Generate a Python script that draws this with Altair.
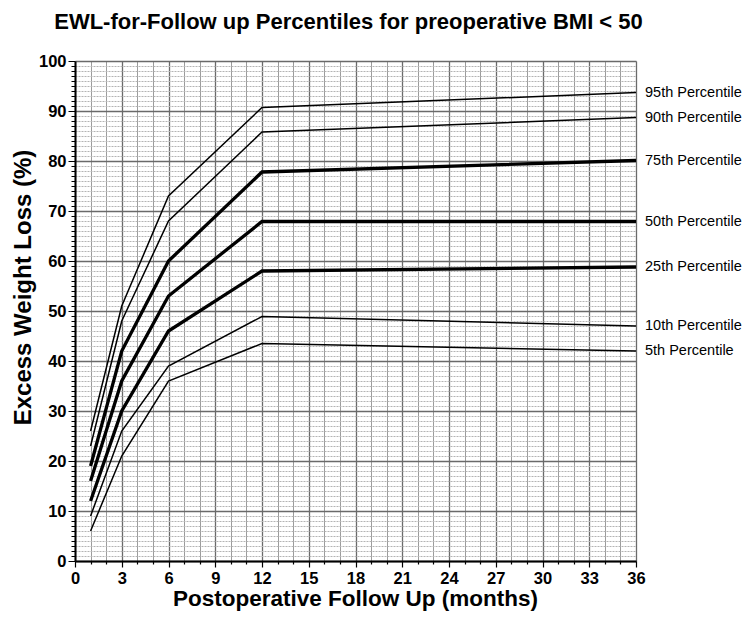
import altair as alt
import pandas as pd

# ---- data ----
months = [1, 3, 6, 12, 36]
series_names = ["95th Percentile", "90th Percentile", "75th Percentile",
                "50th Percentile", "25th Percentile", "10th Percentile",
                "5th Percentile"]
bold_series = ["75th Percentile", "50th Percentile", "25th Percentile"]
p95 = [26, 51, 73, 90.7, 93.7]
p90 = [23, 48, 68, 85.8, 88.7]
p75 = [19, 42, 60, 77.8, 80.1]
p50 = [16, 36, 53, 67.9, 67.9]
p25 = [12, 30, 46, 58, 58.8]
p10 = [9, 26, 39, 48.9, 47]
p5 = [6, 21, 36, 43.5, 42]

x_ticks = list(range(0, 37))      # grid / tick positions (months)
y_ticks = list(range(0, 101))     # grid / tick positions (%)

series_values = [p95, p90, p75, p50, p25, p10, p5]
rows = []
for name, vals in zip(series_names, series_values):
    for m, v in zip(months, vals):
        rows.append({"series": name, "month": m, "ewl": v,
                     "bold": name in bold_series})
df = pd.DataFrame(rows)

FONT = "Liberation Sans"

x_axis = alt.Axis(
    values=x_ticks,
    labelExpr="datum.value % 3 === 0 ? datum.label : ''",
    labelOverlap=False, labelFlush=False, labelBound=False,
    labelFont=FONT, labelFontSize=16.5, labelFontWeight="bold", labelColor="black",
    labelPadding=3,
    grid=True,
    gridColor={"condition": {"test": "datum.value % 3 === 0", "value": "#6a6a6a"}, "value": "#9c9c9c"},
    gridWidth={"condition": {"test": "datum.value % 3 === 0", "value": 1.3}, "value": 1},
    ticks=True,
    tickColor="black",
    tickSize={"condition": {"test": "datum.value % 3 === 0", "value": 6}, "value": 3},
    tickWidth=1.2,
    domainColor="black", domainWidth=2,
    title="Postoperative Follow Up (months)",
    titleFont=FONT, titleFontSize=22.5, titleFontWeight="bold", titleColor="black",
    titleX=280, titleY=37, titleBaseline="middle", titleAlign="center",
)

y_axis = alt.Axis(
    values=y_ticks,
    labelExpr="datum.value % 10 === 0 ? datum.label : ''",
    labelOverlap=False, labelFlush=False, labelBound=False,
    labelFont=FONT, labelFontSize=16.5, labelFontWeight="bold", labelColor="black",
    labelPadding=2,
    grid=True,
    gridColor={"condition": {"test": "datum.value % 10 === 0", "value": "#6a6a6a"}, "value": "#b4b4b4"},
    gridDash={"condition": {"test": "datum.value % 10 === 0", "value": [1, 0]}, "value": [2, 1]},
    gridWidth={"condition": {"test": "datum.value % 10 === 0", "value": 1.3}, "value": 1},
    ticks=True,
    tickColor="black",
    tickSize={"condition": {"test": "datum.value % 10 === 0", "value": 7}, "value": 4},
    tickWidth=1,
    domainColor="black", domainWidth=2,
    title="Excess Weight Loss (%)",
    titleFont=FONT, titleFontSize=24, titleFontWeight="bold", titleColor="black",
    titleAngle=270, titleX=-52, titleY=226, titleBaseline="middle", titleAlign="center",
)

x_enc = alt.X("month:Q", scale=alt.Scale(domain=[0, 36], nice=False, zero=False), axis=x_axis)
y_enc = alt.Y("ewl:Q", scale=alt.Scale(domain=[0, 100], nice=False), axis=y_axis)

base = alt.Chart(df)

thin_lines = base.mark_line(color="black", strokeWidth=1.5, strokeJoin="miter").encode(
    x=x_enc, y=y_enc, detail="series:N",
).transform_filter("!datum.bold")

thick_lines = base.mark_line(color="black", strokeWidth=3.3, strokeJoin="miter").encode(
    x=x_enc, y=y_enc, detail="series:N",
).transform_filter("datum.bold")

labels = base.mark_text(
    align="left", baseline="middle", dx=9, font=FONT, fontSize=14.5, color="black"
).encode(
    x=x_enc,
    y=y_enc,
    text="series:N",
).transform_filter(alt.datum.month == 36)

chart = alt.layer(thin_lines, thick_lines, labels).properties(
    width=561,
    height=500,
    title=alt.TitleParams(
        text="EWL-for-Follow up Percentiles for preoperative BMI < 50",
        font=FONT, fontSize=22, fontWeight="bold", color="black",
        anchor="middle", dx=-7, offset=19,
    ),
    padding={"left": 67, "top": 53, "right": 106, "bottom": 50},
    autosize=alt.AutoSizeParams(type="none"),
).configure_view(stroke=None).configure(background="white")

chart.save("out.html", embed_options={"renderer": "svg", "actions": False})
